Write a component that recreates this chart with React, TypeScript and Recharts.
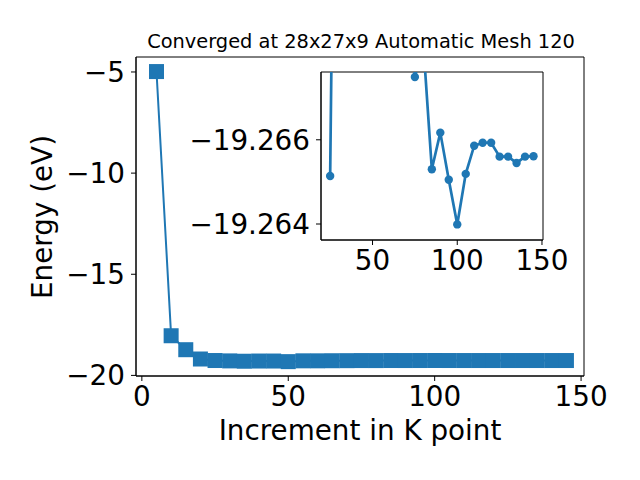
import { LineChart, Line, XAxis, YAxis, CartesianGrid, ReferenceArea } from "recharts"

const BLUE = "#1f77b4"
const FONT = "DejaVu Sans"

// k-point increments and converged total energies (eV)
const K_POINTS = [5, 10, 15, 20, 25, 30, 35, 40, 45, 50, 55, 60, 65, 70, 75, 80, 85, 90, 95, 100, 105, 110, 115, 120, 125, 130, 135, 140, 145]
const ENERGY = [
  -4.98, -18.04, -18.73, -19.19, -19.26514, -19.283, -19.3, -19.29, -19.29, -19.32, -19.28, -19.28, -19.275, -19.272,
  -19.26749, -19.26826, -19.2653, -19.26617, -19.26505, -19.26399, -19.26519, -19.26586, -19.26593, -19.26593,
  -19.2656, -19.2656, -19.26545, -19.2656, -19.26561,
]

const MAIN_X_TICKS = [0, 50, 100, 150]
const MAIN_Y_TICKS = [-20, -15, -10, -5]
const INSET_X_TICKS = [50, 100, 150]
const INSET_Y_TICKS = [-19.266, -19.264]
const INSET_FROM = 25

const MAIN_X_DOMAIN: [number, number] = [-2, 151]
const MAIN_Y_DOMAIN: [number, number] = [-20.03, -4.26]
const INSET_X_DOMAIN: [number, number] = [19.6, 150.6]
const INSET_Y_DOMAIN: [number, number] = [-19.26761, -19.26362]

const TITLE = "Converged at 28x27x9 Automatic Mesh 120"
const X_LABEL = "Increment in K point"
const Y_LABEL = "Energy (eV)"

const data = K_POINTS.map((k, i) => ({ k, e: ENERGY[i] }))
const insetData = data.filter((d) => d.k >= INSET_FROM)

const minus = (s: string) => s.replace("-", "\u2212")
const tickStyle = { fill: "#000", fontSize: 27.8, fontFamily: FONT }
const black = { stroke: "#000" }

const Square = (p: any) => (
  <rect key={`sq-${p.index}`} x={p.cx - 7.5} y={p.cy - 7.5} width={15} height={15} fill={BLUE} />
)

export default function App() {
  return (
    <div style={{ position: "absolute", left: 0, top: 0, width: 640, height: 480, background: "#fff", fontFamily: FONT }}>
      <div style={{ position: "absolute", left: 0, top: 0 }}>
        <LineChart width={640} height={480} data={data} margin={{ top: 57, right: 56, bottom: 44, left: 66 }}>
          <XAxis
            dataKey="k"
            type="number"
            domain={MAIN_X_DOMAIN}
            ticks={MAIN_X_TICKS}
            allowDataOverflow
            height={60}
            tickSize={5}
            tickMargin={5}
            tick={tickStyle}
            axisLine={black}
            tickLine={black}
          />
          <YAxis
            type="number"
            domain={MAIN_Y_DOMAIN}
            ticks={MAIN_Y_TICKS}
            allowDataOverflow
            width={70}
            tickSize={5}
            tickMargin={6}
            tick={tickStyle}
            tickFormatter={(v: number) => minus(String(v))}
            axisLine={black}
            tickLine={black}
          />
          {/* axes frame */}
          <ReferenceArea
            x1={MAIN_X_DOMAIN[0]}
            x2={MAIN_X_DOMAIN[1]}
            y1={MAIN_Y_DOMAIN[0]}
            y2={MAIN_Y_DOMAIN[1]}
            fill="none"
            stroke="#000"
            strokeWidth={1}
            fillOpacity={0}
            ifOverflow="visible"
          />
          <Line dataKey="e" stroke={BLUE} strokeWidth={2} dot={Square} isAnimationActive={false} />
        </LineChart>
      </div>

      <div style={{ position: "absolute", left: 0, top: 0 }}>
        <LineChart width={640} height={480} data={insetData} margin={{ top: 72, right: 97, bottom: 200, left: 171 }}>
          <CartesianGrid horizontal={false} vertical={false} fill="#fff" />
          <XAxis
            dataKey="k"
            type="number"
            domain={INSET_X_DOMAIN}
            ticks={INSET_X_TICKS}
            allowDataOverflow
            height={40}
            tickSize={5}
            tickMargin={5}
            tick={tickStyle}
            axisLine={black}
            tickLine={black}
          />
          <YAxis
            type="number"
            reversed
            domain={INSET_Y_DOMAIN}
            ticks={INSET_Y_TICKS}
            allowDataOverflow
            width={150}
            tickSize={5}
            tickMargin={6}
            tick={tickStyle}
            tickFormatter={(v: number) => minus(v.toFixed(3))}
            axisLine={black}
            tickLine={black}
          />
          <ReferenceArea
            x1={INSET_X_DOMAIN[0]}
            x2={INSET_X_DOMAIN[1]}
            y1={INSET_Y_DOMAIN[0]}
            y2={INSET_Y_DOMAIN[1]}
            fill="none"
            stroke="#000"
            strokeWidth={1}
            fillOpacity={0}
            ifOverflow="visible"
          />
          <Line dataKey="e" stroke={BLUE} strokeWidth={2.7} dot={{ r: 4.2, fill: BLUE, stroke: "none" }} isAnimationActive={false} />
        </LineChart>
      </div>

      <svg width={640} height={480} style={{ position: "absolute", left: 0, top: 0, pointerEvents: "none" }}>
        <text x={361} y={47.5} textAnchor="middle" fontSize={19.4} fontFamily={FONT} fill="#000">
          {TITLE}
        </text>
        <text x={360} y={440} textAnchor="middle" fontSize={27.8} fontFamily={FONT} fill="#000">
          {X_LABEL}
        </text>
        <text x={52} y={217} textAnchor="middle" fontSize={27.8} fontFamily={FONT} fill="#000" transform="rotate(-90 52 217)">
          {Y_LABEL}
        </text>
      </svg>
    </div>
  )
}
